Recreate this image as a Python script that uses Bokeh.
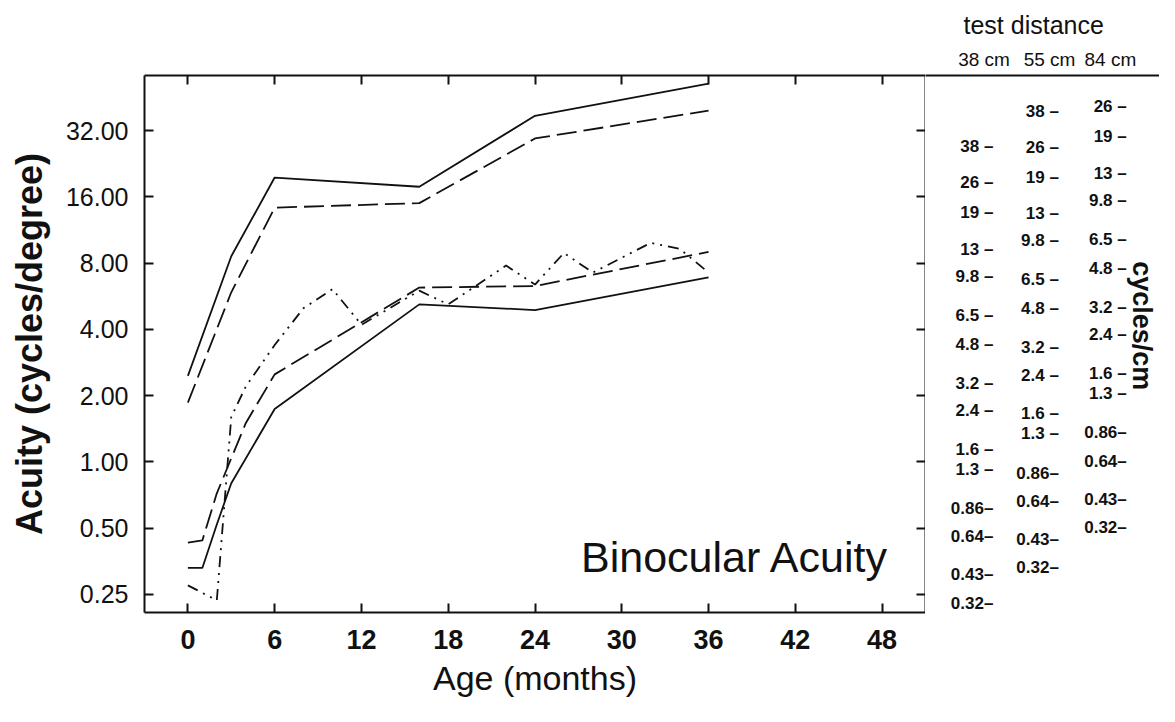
import math
from bokeh.plotting import figure
from bokeh.models import (Range1d, FixedTicker, NumeralTickFormatter, LinearAxis, LogAxis,
                          Label, ColumnDataSource, CustomLabelingPolicy,
                          CustomJSTickFormatter)
from bokeh.layouts import row
from bokeh.embed import file_html
from bokeh.resources import INLINE
from bokeh.core.properties import value

# ---------------- data ----------------
age_upper_solid = [0, 3, 6, 16, 24, 36]
acuity_upper_solid = [2.46, 8.6, 19.6, 17.8, 37.4, 52.3]

age_upper_dashed = [0, 3, 6, 16, 24, 36]
acuity_upper_dashed = [1.86, 5.9, 14.3, 15.0, 29.5, 39.5]

age_lower_solid = [0, 1, 2, 3, 6, 16, 24, 36]
acuity_lower_solid = [0.33, 0.33, 0.52, 0.80, 1.74, 5.2, 4.9, 6.9]

age_lower_dashed = [0, 1, 2, 4, 6, 16, 24, 36]
acuity_lower_dashed = [0.43, 0.44, 0.72, 1.5, 2.5, 6.2, 6.3, 9.0]

age_dotdash = [0, 2, 3, 4, 6, 8, 10, 12, 16, 18, 22, 24, 26, 28, 32, 34, 36]
acuity_dotdash = [0.275, 0.235, 1.6, 2.2, 3.4, 5.0, 6.1, 4.2, 6.0, 5.2, 7.8, 6.4,
                  8.9, 7.25, 9.9, 9.3, 7.25]

age_ticks = [0, 6, 12, 18, 24, 30, 36, 42, 48]
acuity_ticks = [0.25, 0.5, 1, 2, 4, 8, 16, 32]

test_distances_cm = [38, 55, 84]
distance_headers = ["38 cm", "55 cm", "84 cm"]
cycles_per_cm_38 = ["38", "26", "19", "13", "9.8", "6.5", "4.8", "3.2", "2.4", "1.6",
                    "1.3", "0.86", "0.64", "0.43", "0.32"]
cycles_per_cm_55 = ["38", "26", "19", "13", "9.8", "6.5", "4.8", "3.2", "2.4", "1.6",
                    "1.3", "0.86", "0.64", "0.43", "0.32"]
cycles_per_cm_84 = ["26", "19", "13", "9.8", "6.5", "4.8", "3.2", "2.4", "1.6",
                    "1.3", "0.86", "0.64", "0.43", "0.32"]

FONT = "Liberation Sans"
INK = "#111111"

def hidden_labels():
    return dict(
        major_label_policy=CustomLabelingPolicy(code="""
for (const i of indices) { indices.unset(i) }
return indices
"""),
        formatter=CustomJSTickFormatter(code="return ''"),
        major_label_standoff=0,
    )

TOP, FRAME_H, BOTTOM = 75, 537, 94
HEIGHT = TOP + FRAME_H + BOTTOM

# ---------------- main figure ----------------
y_range = Range1d(0.207, 57)
p = figure(width=925, height=HEIGHT, x_range=Range1d(-3, 51),
           y_range=y_range, y_axis_type="log", output_backend="svg",
           toolbar_location=None, min_border_left=144, min_border_right=0,
           min_border_top=TOP, min_border_bottom=BOTTOM, outline_line_color=None,
           background_fill_color="white", border_fill_color="white")
p.grid.visible = False

def style_axis(ax):
    ax.axis_line_color = INK
    ax.axis_line_width = 2
    ax.major_tick_line_color = INK
    ax.major_tick_line_width = 2
    ax.major_tick_in = 9
    ax.major_tick_out = 0
    ax.minor_tick_line_color = None

xa = p.xaxis[0]
xa.ticker = FixedTicker(ticks=age_ticks)
style_axis(xa)
xa.major_label_text_font = FONT
xa.major_label_text_font_style = "bold"
xa.major_label_text_font_size = "27px"
xa.major_label_text_color = INK
xa.major_label_standoff = 17
xa.axis_label = "Age (months)"
xa.axis_label_text_font = FONT
xa.axis_label_text_font_style = "normal"
xa.axis_label_text_font_size = "34px"
xa.axis_label_text_color = INK
xa.axis_label_standoff = 7

ya = p.yaxis[0]
ya.ticker = FixedTicker(ticks=acuity_ticks)
ya.formatter = NumeralTickFormatter(format="0.00")
style_axis(ya)
ya.major_label_text_font = FONT
ya.major_label_text_font_size = "25px"
ya.major_label_text_color = INK
ya.major_label_standoff = 16
ya.axis_label = "Acuity (cycles/degree)"
ya.axis_label_text_font = FONT
ya.axis_label_text_font_style = "bold"
ya.axis_label_text_font_size = "36px"
ya.axis_label_text_color = INK
ya.axis_label_standoff = 13

top = LinearAxis(ticker=FixedTicker(ticks=age_ticks), **hidden_labels())
style_axis(top)
p.add_layout(top, "above")

right = LogAxis(ticker=FixedTicker(ticks=acuity_ticks), **hidden_labels())
style_axis(right)
p.add_layout(right, "right")

p.line(age_upper_solid, acuity_upper_solid, line_color=INK, line_width=1.8)
p.line(age_upper_dashed, acuity_upper_dashed, line_color=INK, line_width=1.8,
       line_dash="20 7")
p.line(age_lower_solid, acuity_lower_solid, line_color=INK, line_width=1.8)
p.line(age_lower_dashed, acuity_lower_dashed, line_color=INK, line_width=1.8,
       line_dash="20 7")
p.line(age_dotdash, acuity_dotdash, line_color=INK, line_width=1.8,
       line_dash="11 6 2 6 2 6")

p.add_layout(Label(x=48.5, y=0.37, text="Binocular Acuity", text_align="right",
                   text_baseline="alphabetic", text_font=FONT,
                   text_font_size="43px", text_color=INK))

# ---------------- right panel: cycles/cm scales ----------------
p2 = figure(width=234, height=HEIGHT, x_range=Range1d(0, 100),
            y_range=y_range, y_axis_type="log", x_axis_location=None,
            y_axis_location=None, title="test distance", title_location="above",
            output_backend="svg", toolbar_location=None,
            min_border_left=0, min_border_right=0, min_border_top=TOP,
            min_border_bottom=BOTTOM, outline_line_color=None,
            background_fill_color="white", border_fill_color="white")
p2.grid.visible = False
p2.title.align = "left"
p2.title.offset = 38
p2.title.text_font = FONT
p2.title.text_font_style = "normal"
p2.title.text_font_size = "25px"
p2.title.text_color = INK
p2.title.standoff = 14

header_x = [25, 53, 79]
column_right_x = [29, 57, 86]

hdr = LinearAxis(ticker=FixedTicker(ticks=header_x),
                 major_label_overrides={hx: h for hx, h in zip(header_x, distance_headers)})
hdr.axis_line_color = INK
hdr.axis_line_width = 2
hdr.major_tick_line_color = None
hdr.minor_tick_line_color = None
hdr.major_tick_in = 0
hdr.major_tick_out = 0
hdr.major_label_standoff = 6
hdr.major_label_text_font = FONT
hdr.major_label_text_font_size = "19px"
hdr.major_label_text_color = INK
p2.add_layout(hdr, "above")

tan_one_degree = math.tan(math.radians(1.0))
xs, ys, texts = [], [], []
for col, (dist, labels) in enumerate(zip(test_distances_cm,
                                         [cycles_per_cm_38, cycles_per_cm_55, cycles_per_cm_84])):
    for lab in labels:
        cpcm = float(lab)
        xs.append(column_right_x[col])
        ys.append(cpcm * dist * tan_one_degree)   # equivalent cycles/degree
        texts.append(lab + ("–" if len(lab) >= 4 else " –"))

src = ColumnDataSource(dict(x=xs, y=ys, text=texts))
p2.text(x="x", y="y", text="text", source=src, text_align="right",
        text_baseline="middle", text_font=value(FONT), text_font_style="bold",
        text_font_size="17px", text_color=INK, y_offset=-7)

p2.add_layout(Label(x=92.5, y=4.16, text="cycles/cm", angle=-math.pi / 2,
                    text_align="center", text_baseline="middle", text_font=FONT,
                    text_font_style="bold", text_font_size="27px", text_color=INK))

layout = row(p, p2)
open("out.html", "w").write(file_html(layout, INLINE))
